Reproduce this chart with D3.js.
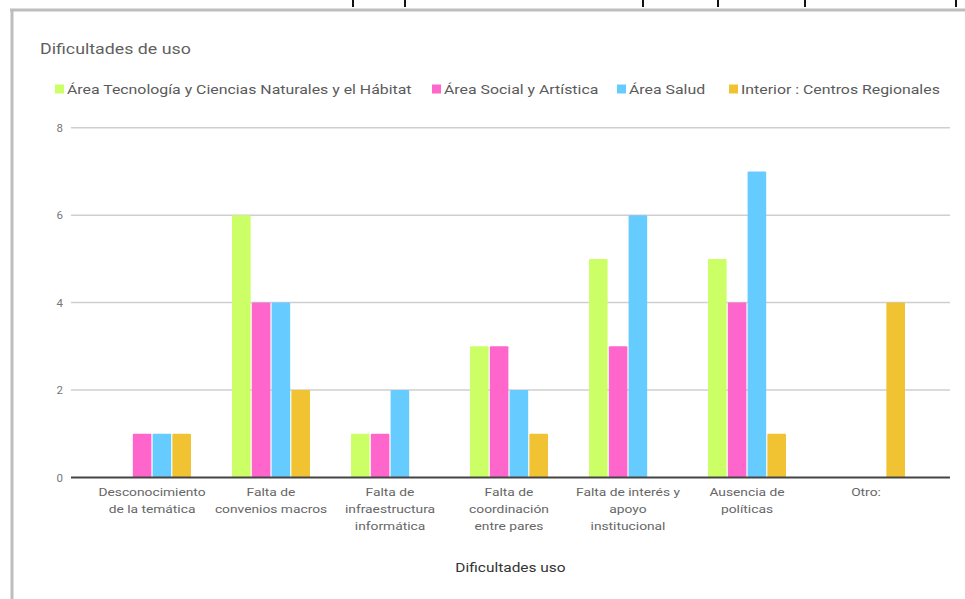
<!DOCTYPE html>
<html>
<head>
<meta charset="utf-8">
<script src="https://cdn.jsdelivr.net/npm/d3@7"></script>
<style>
  html, body { margin: 0; padding: 0; background: #fff; }
  svg { display: block; font-family: Roboto, "Noto Sans", sans-serif; }
</style>
</head>
<body>
<svg id="chart" width="965" height="599"></svg>
<script>
// Survey answers: difficulties of use, counted per academic area
const categories = [
  "Desconocimiento de la temática",
  "Falta de convenios macros",
  "Falta de infraestructura informática",
  "Falta de coordinación entre pares",
  "Falta de interés y apoyo institucional",
  "Ausencia de políticas",
  "Otro:"
];
const categoryLines = [
  ["Desconocimiento", "de la temática"],
  ["Falta de", "convenios macros"],
  ["Falta de", "infraestructura", "informática"],
  ["Falta de", "coordinación", "entre pares"],
  ["Falta de interés y", "apoyo", "institucional"],
  ["Ausencia de", "políticas"],
  ["Otro:"]
];
const seriesNames = [
  "Área Tecnología y Ciencias Naturales y el Hábitat",
  "Área Social y Artística",
  "Área Salud",
  "Interior : Centros Regionales"
];
const tecnologia = [0, 6, 1, 3, 5, 5, 0];
const social     = [1, 4, 1, 3, 3, 4, 0];
const salud      = [1, 4, 2, 2, 6, 7, 0];
const interior   = [1, 2, 0, 1, 0, 1, 4];
const seriesColors = ["#ccff66", "#ff66cc", "#66ccff", "#f1c232"];
const yTicks = [0, 2, 4, 6, 8];
const chartTitle = "Dificultades de uso";
const xAxisTitle = "Dificultades uso";

const seriesValues = [tecnologia, social, salud, interior];

// the typeface here runs a little wide
const widen = 1.27;

const svg = d3.select("#chart");

// sheet frame and the cell edges just above it
const topMarks = [353, 405, 643, 718, 805, 956];
svg.selectAll("line.mark").data(topMarks).join("line")
  .attr("class", "mark")
  .attr("x1", d => d).attr("x2", d => d)
  .attr("y1", 0).attr("y2", 7)
  .attr("stroke", "#111").attr("stroke-width", 2);
svg.append("line")
  .attr("x1", 10).attr("x2", 965).attr("y1", 10).attr("y2", 10)
  .attr("stroke", "#bdbdbd").attr("stroke-width", 3);
svg.append("line")
  .attr("x1", 12).attr("x2", 12).attr("y1", 9).attr("y2", 599)
  .attr("stroke", "#bdbdbd").attr("stroke-width", 3);

// title
svg.append("text")
  .attr("transform", `translate(40,54) scale(${widen},1)`)
  .attr("font-size", 14).attr("fill", "#5f5f5f")
  .text(chartTitle);

// legend
const legendX = [55, 432, 617, 729];
const legend = svg.append("g");
seriesNames.forEach((name, i) => {
  const g = legend.append("g").attr("transform", `translate(${legendX[i]},89)`);
  g.append("rect").attr("x", 0).attr("y", -4.5).attr("width", 9).attr("height", 9)
    .attr("fill", seriesColors[i]);
  g.append("text").attr("transform", `translate(12,4.5) scale(${widen},1)`)
    .attr("font-size", 12.5).attr("fill", "#5a5a5a")
    .text(name);
});

// scales
const plotLeft = 71, plotRight = 950;
const y = d3.scaleLinear().domain([0, 8]).range([477.5, 127.7]);
const x0 = d3.scaleBand().domain(categories).range([92.5, 925.5])
  .paddingInner(0.345).paddingOuter(0.1725);
const x1 = d3.scaleBand().domain(seriesNames).range([0, x0.bandwidth()])
  .paddingInner(0.06);

// gridlines
svg.append("g").selectAll("line").data(yTicks.filter(t => t !== 0)).join("line")
  .attr("x1", plotLeft).attr("x2", plotRight)
  .attr("y1", d => y(d)).attr("y2", d => y(d))
  .attr("stroke", "#cfcfcf").attr("stroke-width", 1.5);

// y axis labels
const yAxis = svg.append("g").attr("transform", `translate(${plotLeft},0)`)
  .call(d3.axisLeft(y).tickValues(yTicks).tickSize(0).tickPadding(8));
yAxis.select(".domain").remove();
yAxis.selectAll("text").attr("font-size", 11.5).attr("fill", "#777")
  .attr("font-family", "Roboto, sans-serif");

// bars
const groups = svg.append("g").selectAll("g").data(categories).join("g")
  .attr("transform", d => `translate(${x0(d)},0)`);
groups.selectAll("rect")
  .data((c, ci) => seriesNames.map((s, si) => ({ s, si, v: seriesValues[si][ci] })))
  .join("rect")
  .filter(d => d.v > 0)
  .attr("x", d => x1(d.s))
  .attr("width", x1.bandwidth())
  .attr("y", d => y(d.v))
  .attr("height", d => y(0) - y(d.v))
  .attr("rx", 1)
  .attr("fill", d => seriesColors[d.si]);

// baseline
svg.append("line")
  .attr("x1", plotLeft).attr("x2", plotRight)
  .attr("y1", y(0)).attr("y2", y(0))
  .attr("stroke", "#444").attr("stroke-width", 2);

// category labels
const xAxis = svg.append("g").attr("transform", `translate(0,${y(0)})`)
  .call(d3.axisBottom(x0).tickSize(0).tickFormat(""));
xAxis.select(".domain").remove();
xAxis.selectAll(".tick").each(function(d, i) {
  const t = d3.select(this).append("text")
    .attr("transform", "scale(1.2,1)")
    .attr("text-anchor", "middle").attr("font-size", 11.5).attr("fill", "#666")
    .attr("font-family", "Roboto, sans-serif");
  categoryLines[i].forEach((line, k) => {
    t.append("tspan").attr("x", 0).attr("y", 19 + k * 16.8).text(line);
  });
});

// axis title
svg.append("text")
  .attr("transform", `translate(${(plotLeft + plotRight) / 2},572) scale(1.19,1)`)
  .attr("text-anchor", "middle").attr("font-size", 13).attr("fill", "#333")
  .text(xAxisTitle);
</script>
</body>
</html>
